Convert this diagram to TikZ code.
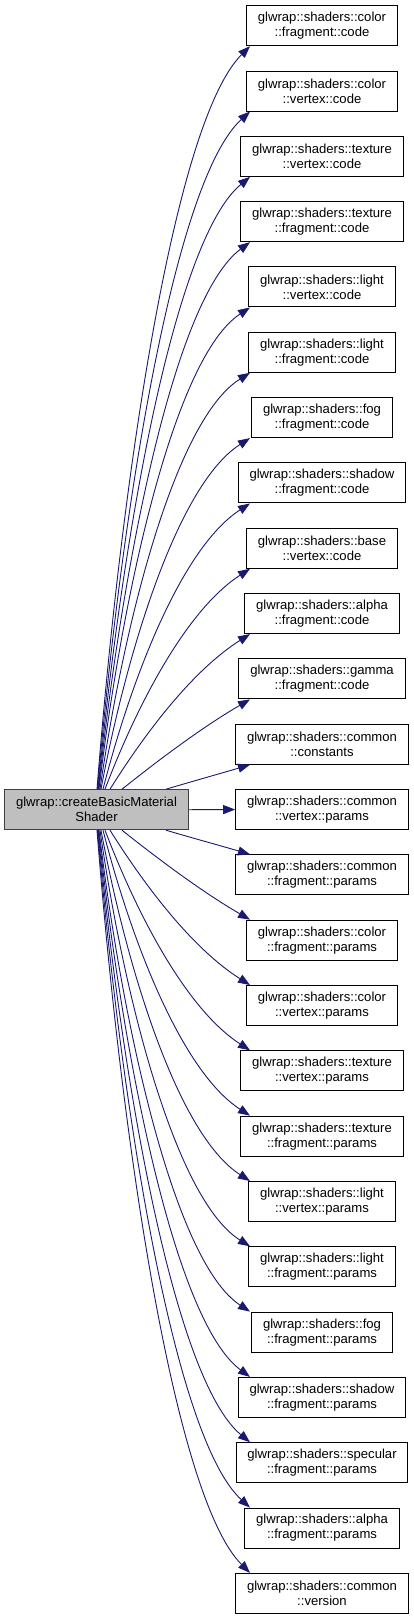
\documentclass[tikz,border=0pt]{standalone}
\usepackage{fontspec}
\setmainfont{Liberation Sans}
\usetikzlibrary{arrows.meta}
\definecolor{edgeblue}{HTML}{191970}
\definecolor{srcfill}{HTML}{BFBFBF}
\definecolor{srcdraw}{HTML}{404040}
\tikzset{
  fn/.style={draw=black, line width=1pt, fill=white, align=center, inner xsep=11.3pt, inner ysep=2pt,
     minimum height=40pt, font=\fontsize{13.1}{15}\selectfont},
  srcbox/.style={fn, fill=srcfill, draw=srcdraw},
  edge/.style={draw=edgeblue, line width=0.9pt, -{Triangle[length=12pt,width=9pt]}}
}
\begin{document}
\begin{tikzpicture}[x=1pt,y=1pt]
\useasboundingbox (0,0) rectangle (413,-1620);
\node[srcbox, minimum width=183.6pt] (src) at (96.5,-809.7) {glwrap::createBasicMaterial\\Shader};
\coordinate (tipx) at (250,0);
\foreach \i/\a/\b in {
 0/color/fragment::code, 1/color/vertex::code, 2/texture/vertex::code, 3/texture/fragment::code,
 4/light/vertex::code, 5/light/fragment::code, 6/fog/fragment::code, 7/shadow/fragment::code,
 8/base/vertex::code, 9/alpha/fragment::code, 10/gamma/fragment::code, 11/common/constants,
 12/common/vertex::params, 13/common/fragment::params, 14/color/fragment::params, 15/color/vertex::params,
 16/texture/vertex::params, 17/texture/fragment::params, 18/light/vertex::params, 19/light/fragment::params,
 20/fog/fragment::params, 21/shadow/fragment::params, 22/specular/fragment::params, 23/alpha/fragment::params,
 24/common/version}{
  \pgfmathsetmacro\yc{25.7+65.32*\i}
  \node[fn] (t\i) at (322,-\yc) {glwrap::shaders::\a\\::\b};
}
% straight edge
\draw[edge] (src.east) -- (t12.west);
% upper edges
\foreach \i/\sx in {0/97,1/97.5,2/98,3/98.5,4/99,5/100,6/101,7/103,8/105,9/110,10/122,11/166}{
  \pgfmathsetmacro\ox{\sx-96.5}
  \pgfmathsetmacro\dx{250-\sx}
  \pgfmathsetmacro\dy{789.3-(45.7+65.32*\i)}
  \pgfmathsetmacro\r{\dy/(\dy+\dx)}
  \pgfmathsetmacro\f{min(1,max(0,(\r-0.35)/0.4))}
  \pgfmathsetmacro\ax{(0.3333-0.18*\f)*\dx}
  \pgfmathsetmacro\ay{(0.3333+0.07*\f)*\dy}
  \pgfmathsetmacro\bx{(0.3333+0.17*\f)*\dx}
  \pgfmathsetmacro\by{(0.3333-0.23*\f)*\dy}
  \draw[edge] ([xshift=\ox pt]src.north) .. controls +(\ax,\ay) and +(-\bx,-\by) .. (t\i.south -| tipx);
}
% lower edges
\foreach \i/\sx in {24/97,23/97.5,22/98,21/98.5,20/99,19/100,18/101,17/103,16/105,15/110,14/122,13/166}{
  \pgfmathsetmacro\ox{\sx-96.5}
  \pgfmathsetmacro\dx{250-\sx}
  \pgfmathsetmacro\dy{(5.7+65.32*\i)-830}
  \pgfmathsetmacro\r{\dy/(\dy+\dx)}
  \pgfmathsetmacro\f{min(1,max(0,(\r-0.35)/0.4))}
  \pgfmathsetmacro\ax{(0.3333-0.18*\f)*\dx}
  \pgfmathsetmacro\ay{(0.3333+0.07*\f)*\dy}
  \pgfmathsetmacro\bx{(0.3333+0.17*\f)*\dx}
  \pgfmathsetmacro\by{(0.3333-0.23*\f)*\dy}
  \draw[edge] ([xshift=\ox pt]src.south) .. controls +(\ax,-\ay) and +(-\bx,\by) .. (t\i.north -| tipx);
}
\end{tikzpicture}
\end{document}
